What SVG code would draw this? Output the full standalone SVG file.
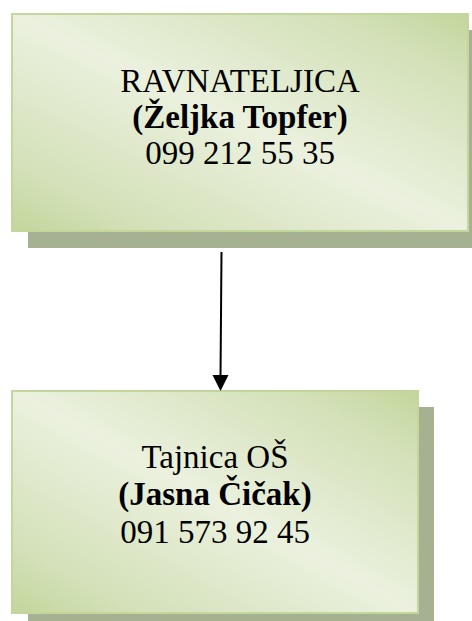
<svg xmlns="http://www.w3.org/2000/svg" width="472" height="621" viewBox="0 0 472 621">
<defs>
<linearGradient id="g" x1="0" y1="1" x2="1" y2="0">
<stop offset="0" stop-color="#c3d69b"/>
<stop offset="0.15" stop-color="#d3e0b8"/>
<stop offset="0.5" stop-color="#ebf1de"/>
<stop offset="0.85" stop-color="#d3e0b8"/>
<stop offset="1" stop-color="#c3d69b"/>
</linearGradient>
<style>
.shadow{fill:#a6b192}
.box{fill:url(#g);stroke:#c3d69b;stroke-width:2}
.t{font-family:"Liberation Serif","Times New Roman",serif;font-size:33px;fill:#000;text-anchor:middle}
.b{font-weight:bold}
</style>
</defs>
<g id="ravnateljica">
<rect class="shadow" x="28" y="30" width="458" height="218"/>
<rect class="box" x="12" y="14" width="456" height="217"/>
<text class="t" x="240" y="92">RAVNATELJICA</text>
<text class="t b" x="240" y="128">(Željka Topfer)</text>
<text class="t" x="240" y="164">099 212 55 35</text>
</g>
<g id="tajnica">
<rect class="shadow" x="28" y="407" width="406" height="220"/>
<rect class="box" x="12" y="391" width="406" height="222"/>
<text class="t" x="215" y="468">Tajnica OŠ</text>
<text class="t b" x="215" y="505">(Jasna Čičak)</text>
<text class="t" x="215" y="543">091 573 92 45</text>
</g>
<g id="connectors">
<line x1="221.5" y1="252" x2="220.5" y2="377" stroke="#000" stroke-width="2"/>
<path d="M212.5,375 L228.5,375 L220.5,391 Z" fill="#000"/>
</g>
</svg>
